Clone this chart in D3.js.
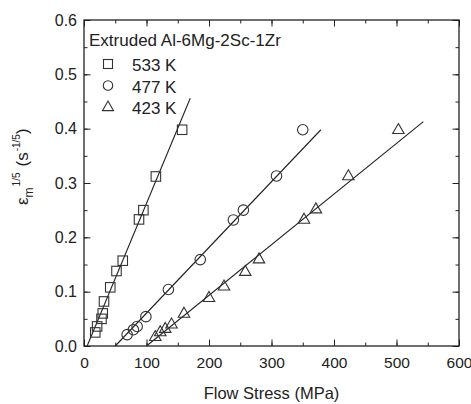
<!DOCTYPE html>
<html><head><meta charset="utf-8">
<script src="https://cdn.jsdelivr.net/npm/d3@7"></script>
<style>body{margin:0;background:#fff;} svg{display:block;font-family:"Liberation Sans",Arial,Helvetica,sans-serif;}</style>
</head><body>
<svg id="c" width="471" height="404"></svg>
<script>
// Data (flow stress in MPa, strain rate^(1/5))
const sq533X = [18, 21, 28, 30, 32, 42, 52, 62, 88, 95, 115, 157];
const sq533Y = [0.025, 0.036, 0.050, 0.060, 0.082, 0.108, 0.138, 0.157, 0.233, 0.250, 0.312, 0.398];
const ci477X = [69, 79, 85, 99, 135, 186, 239, 255, 308, 350];
const ci477Y = [0.021, 0.030, 0.036, 0.054, 0.104, 0.159, 0.232, 0.250, 0.313, 0.398];
const tr423X = [114, 122, 130, 140, 160, 200, 224, 258, 280, 352, 371, 423, 503];
const tr423Y = [0.017, 0.026, 0.032, 0.040, 0.060, 0.089, 0.110, 0.137, 0.160, 0.233, 0.252, 0.313, 0.398];
// Linear fit lines (end points)
const fit533X = [5, 170], fit533Y = [0, 0.456];
const fit477X = [50, 379], fit477Y = [0, 0.398];
const fit423X = [100, 543], fit423Y = [0, 0.413];
const xTicks = [0, 100, 200, 300, 400, 500, 600];
const yTicks = [0.0, 0.1, 0.2, 0.3, 0.4, 0.5, 0.6];
const legendTitle = "Extruded Al-6Mg-2Sc-1Zr";
const seriesNames = ["533 K", "477 K", "423 K"];

const svg = d3.select("#c");
const L = 84, R = 459, T = 20, B = 346;
const x = d3.scaleLinear().domain([0, 600]).range([L, R]);
const y = d3.scaleLinear().domain([0, 0.6]).range([B, T]);
const ink = "#222";

const xMinor = d3.range(0, 601, 50);
const yMinor = d3.range(0, 0.601, 0.05);
const fmtY = d3.format(".1f");
// bottom
let g = svg.append("g").attr("transform", `translate(0,${B})`)
  .call(d3.axisBottom(x).tickValues(xMinor).tickSize(-3.5).tickFormat(""));
g = svg.append("g").attr("transform", `translate(0,${B})`)
  .call(d3.axisBottom(x).tickValues(xTicks).tickSize(-6.5).tickPadding(10).tickFormat(d3.format("d")));
g.selectAll("text").attr("font-size", 15.5).attr("fill", ink).attr("dy", "0.76em").attr("y", 10);
// top
svg.append("g").attr("transform", `translate(0,${T})`)
  .call(d3.axisTop(x).tickValues(xMinor).tickSize(-3.5).tickFormat(""));
svg.append("g").attr("transform", `translate(0,${T})`)
  .call(d3.axisTop(x).tickValues(xTicks).tickSize(-6.5).tickFormat(""));
// left
svg.append("g").attr("transform", `translate(${L},0)`)
  .call(d3.axisLeft(y).tickValues(yMinor).tickSize(-3.5).tickFormat(""));
g = svg.append("g").attr("transform", `translate(${L},0)`)
  .call(d3.axisLeft(y).tickValues(yTicks).tickSize(-6.5).tickPadding(7).tickFormat(fmtY));
g.selectAll("text").attr("font-size", 16).attr("fill", ink).attr("x", -7);
// right
svg.append("g").attr("transform", `translate(${R},0)`)
  .call(d3.axisRight(y).tickValues(yMinor).tickSize(-3.5).tickFormat(""));
svg.append("g").attr("transform", `translate(${R},0)`)
  .call(d3.axisRight(y).tickValues(yTicks).tickSize(-6.5).tickFormat(""));
svg.selectAll(".domain").remove();
svg.selectAll(".tick line").attr("stroke", ink).attr("stroke-width", 1);
svg.selectAll("g text").attr("font-family", "Liberation Sans, Arial, sans-serif");

// frame
svg.append("rect").attr("x", L).attr("y", T).attr("width", R - L).attr("height", B - T)
  .attr("fill", "none").attr("stroke", ink).attr("stroke-width", 1.3);

// fit lines
const fits = [[fit533X, fit533Y], [fit477X, fit477Y], [fit423X, fit423Y]];
fits.forEach(([fx, fy]) => {
  svg.append("line").attr("x1", x(fx[0])).attr("y1", y(fy[0])).attr("x2", x(fx[1])).attr("y2", y(fy[1]))
    .attr("stroke", ink).attr("stroke-width", 1.1);
});

// symbols
const symStroke = "#333";
function square(sel, s) { sel.append("rect").attr("x", -s/2).attr("y", -s/2).attr("width", s).attr("height", s); }
function circle(sel, s) { sel.append("circle").attr("r", s/2); }
function triangle(sel, s) { const h = s * 0.87; sel.append("path").attr("d", `M0,${-h*0.62}L${s/2},${h*0.38}L${-s/2},${h*0.38}Z`); }
const shapes = [square, circle, triangle];
const series = [[sq533X, sq533Y], [ci477X, ci477Y], [tr423X, tr423Y]];
const sizes = [9.5, 10.5, 11.5];
series.forEach(([xs, ys], i) => {
  xs.forEach((v, j) => {
    const p = svg.append("g").attr("transform", `translate(${x(v)},${y(ys[j])})`)
      .attr("fill", "none").attr("stroke", symStroke).attr("stroke-width", 1.1);
    shapes[i](p, sizes[i]);
  });
});

// legend
svg.append("text").attr("x", 89).attr("y", 46).attr("font-size", 17).attr("fill", ink).text(legendTitle);
seriesNames.forEach((n, i) => {
  const cy = 64 + i * 21.5;
  const p = svg.append("g").attr("transform", `translate(108,${cy})`)
    .attr("fill", "none").attr("stroke", symStroke).attr("stroke-width", 1.1);
  shapes[i](p, [9, 9.5, 11][i]);
  svg.append("text").attr("x", 132).attr("y", cy + 7).attr("font-size", 17).attr("fill", ink).text(n);
});

// axis titles
svg.append("text").attr("x", (L + R) / 2).attr("y", 399).attr("text-anchor", "middle")
  .attr("font-size", 16.5).attr("fill", ink).text("Flow Stress (MPa)");
const yt = svg.append("text").attr("transform", "translate(28,205) rotate(-90)")
  .attr("font-size", 17).attr("fill", ink);
yt.append("tspan").text("ε");
yt.append("tspan").attr("font-size", 12).attr("dy", 5).text("m");
yt.append("tspan").attr("font-size", 10).attr("dy", -13).attr("dx", 1).text("1/5");
yt.append("tspan").attr("font-size", 17).attr("dy", 8).attr("dx", 6).text("(s");
yt.append("tspan").attr("font-size", 10).attr("dy", -8).attr("dx", 1).text("-1/5");
yt.append("tspan").attr("font-size", 17).attr("dy", 8).text(")");
</script>
</body></html>
